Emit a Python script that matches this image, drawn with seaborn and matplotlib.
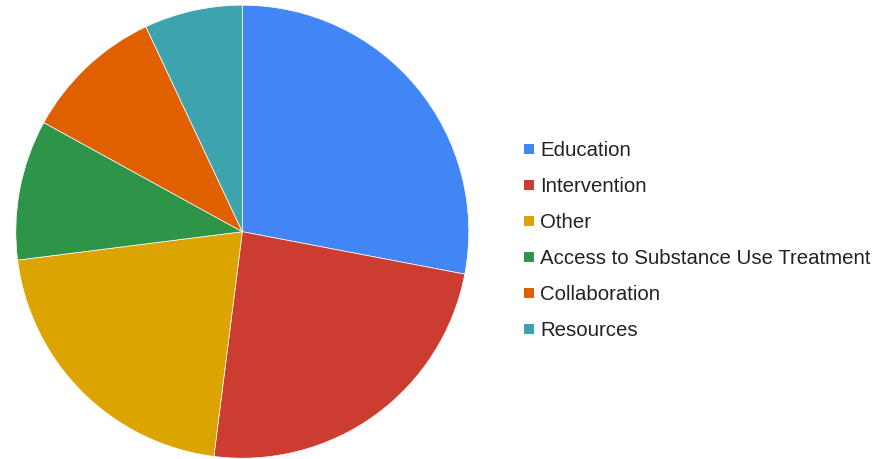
import seaborn as sns
import matplotlib
matplotlib.use("Agg")
import matplotlib.pyplot as plt
from matplotlib.lines import Line2D

# slice shares (percent), clockwise from 12 o'clock
categories = ["Education", "Intervention", "Other",
              "Access to Substance Use Treatment", "Collaboration", "Resources"]
shares = [28, 24, 21, 10, 10, 7]
colors = ["#4285F4", "#CD3C30", "#DBA401", "#2E9447", "#E06000", "#3DA4AE"]

sns.set_theme(style="white")
plt.rcParams["font.family"] = ["Liberation Sans", "DejaVu Sans"]

fig = plt.figure(figsize=(8.88, 4.59), dpi=100)
# pie centre ~ (242, 232) px, radius ~ 226 px
ax = fig.add_axes([15.8 / 888, 0.8 / 459, 453 / 888, 453 / 459])
ax.pie(shares, colors=colors, startangle=90, counterclock=False, radius=1,
       wedgeprops=dict(edgecolor="white", linewidth=0.5))
ax.set_xlim(-1, 1)
ax.set_ylim(-1, 1)
ax.set_aspect("equal")
ax.axis("off")

handles = [Line2D([], [], marker="s", linestyle="", markersize=6.5,
                  markerfacecolor=c, markeredgecolor=c, markeredgewidth=0)
           for c in colors]
fig.legend(handles, categories, loc="upper left",
           bbox_to_anchor=(524 / 888, 1 - 141 / 459),
           frameon=False, fontsize=14.7, labelspacing=0.83,
           handlelength=0.5, handletextpad=0.3, borderaxespad=0,
           borderpad=0, labelcolor="#222222")

fig.savefig("out.png", dpi=100, facecolor="white")
